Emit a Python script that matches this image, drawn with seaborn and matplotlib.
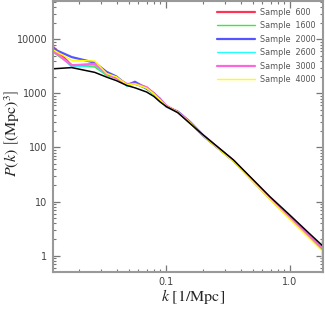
import matplotlib; matplotlib.use('Agg')
import matplotlib.pyplot as plt
import matplotlib.ticker as mticker
import seaborn as sns

# ── Data ────────────────────────────────────────────────────────
k = [0.0123, 0.0174, 0.0267, 0.0333, 0.040, 0.0485, 0.0563, 0.070, 0.080,
     0.0895, 0.101, 0.125, 0.156, 0.2, 0.35, 0.69, 1.0, 1.4, 1.8, 1.9]

theory = [2850, 3000, 2450, 2000, 1720, 1400, 1270, 1060, 880,
          700, 570, 440, 280, 170, 59, 12.3, 5.6, 2.7, 1.58, 1.4]

s600  = [7300, 3300, 3300, 2300, 1950, 1450, 1550, 1280, 1000,
         760, 580, 450, 290, 165, 57, 11.5, 5.1, 2.4, 1.4, 1.25]
s1600 = [5800, 3300, 3080, 2150, 1900, 1450, 1500, 1200, 950,
         720, 580, 450, 285, 165, 57, 11.6, 5.1, 2.4, 1.4, 1.25]
s2000 = [6700, 4700, 3700, 2500, 2050, 1420, 1640, 1230, 1000,
         800, 570, 460, 300, 168, 57, 11.5, 5.0, 2.4, 1.35, 1.2]
s2600 = [6450, 3080, 3300, 2200, 2000, 1360, 1500, 1250, 980,
         750, 570, 450, 290, 160, 56, 11.3, 5.0, 2.4, 1.4, 4.0]
s3000 = [6200, 3300, 3530, 2300, 1900, 1500, 1500, 1300, 1000,
         780, 590, 450, 295, 165, 57, 11.5, 5.1, 2.4, 1.4, 1.25]
s4000 = [6460, 4100, 3970, 2330, 2020, 1450, 1500, 1250, 980,
         760, 580, 450, 290, 165, 55, 11.0, 4.7, 2.2, 1.25, 0.3]

labels = ['Sample  600', 'Sample  1600', 'Sample  2000',
          'Sample  2600', 'Sample  3000', 'Sample  4000']
series = [s600, s1600, s2000, s2600, s3000, s4000]
colors = ['#ff3355', '#33ee33', '#5555ff', '#22ffff', '#ff66dd', '#ffff00']
widths = [1.6, 1.0, 1.6, 1.0, 1.6, 1.0]

# ── Plot ─────────────────────────────────────────────────────────
sns.set_style('ticks')
plt.rcParams['font.family'] = ['DejaVu Sans']
plt.rcParams['mathtext.fontset'] = 'stix'

fig = plt.figure(figsize=(3.25, 3.10), dpi=100)
ax = fig.add_axes([0.163, 0.123, 0.831, 0.875])

for vals, lab, c, lw in zip(series, labels, colors, widths):
    sns.lineplot(x=k, y=vals, ax=ax, color=c, lw=lw, label=lab, sort=False)
sns.lineplot(x=k, y=theory, ax=ax, color='black', lw=1.1, sort=False)

ax.set_xscale('log'); ax.set_yscale('log')
ax.set_xlim(0.0123, 1.85)
ax.set_ylim(0.5, 52000)

ax.xaxis.set_major_locator(mticker.FixedLocator([0.1, 1.0]))
ax.xaxis.set_major_formatter(mticker.FixedFormatter(['0.1', '1.0']))
ax.xaxis.set_minor_locator(mticker.LogLocator(base=10, subs=range(2, 10)))
ax.xaxis.set_minor_formatter(mticker.NullFormatter())
ax.yaxis.set_major_locator(mticker.FixedLocator([1, 10, 100, 1000, 10000]))
ax.yaxis.set_major_formatter(mticker.FixedFormatter(['1', '10', '100', '1000', '10000']))
ax.yaxis.set_minor_locator(mticker.LogLocator(base=10, subs=range(2, 10)))
ax.yaxis.set_minor_formatter(mticker.NullFormatter())

ax.tick_params(which='both', direction='in', top=True, right=True,
               color='#777777', labelsize=7, labelcolor='#444444', pad=4)
ax.tick_params(which='major', length=5, width=0.9)
ax.tick_params(which='minor', length=2.5, width=0.8)
for sp in ax.spines.values():
    sp.set_color('#999999'); sp.set_linewidth(1.5)

ax.set_xlabel(r'$k\ [\mathrm{1/Mpc}]$', fontsize=11.5, va='center')
ax.set_ylabel(r'$P(k)\ \left[(\mathrm{Mpc})^3\right]$', fontsize=11.5, va='center')
ax.xaxis.set_label_coords(0.52, -0.09)
ax.yaxis.set_label_coords(-0.152, 0.51)

leg = ax.legend(loc='upper right', frameon=False, fontsize=5.8,
                handlelength=4.8, handletextpad=0.6, labelspacing=0.55,
                borderaxespad=0.5)
for t in leg.get_texts():
    t.set_color('#555555')

fig.savefig('out.png', dpi=100)
